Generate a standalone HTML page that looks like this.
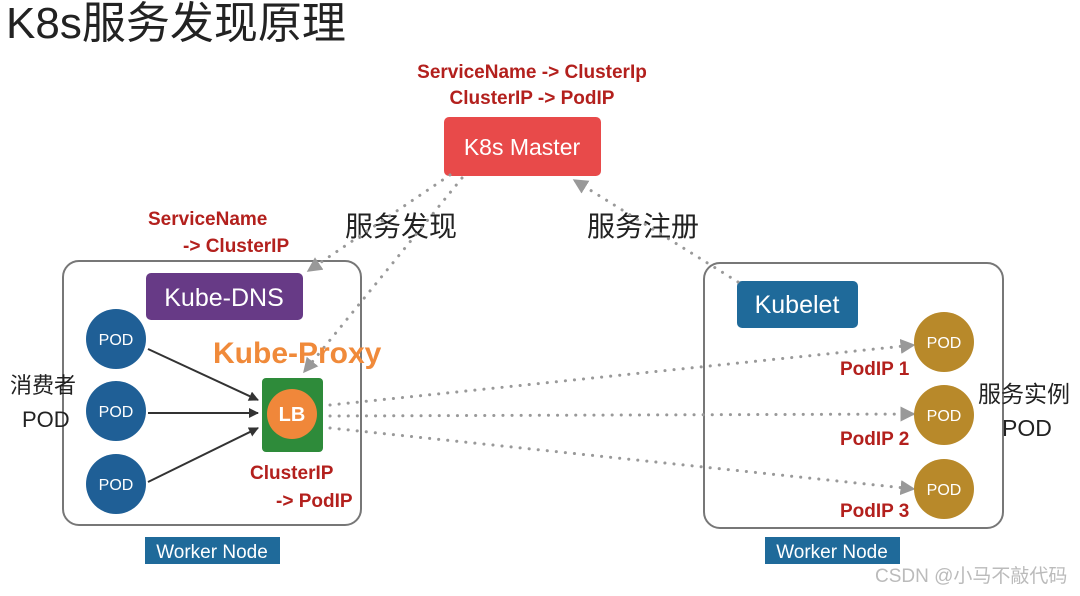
<!DOCTYPE html>
<html><head><meta charset="utf-8"><style>
body{margin:0;background:#fff;width:1080px;height:591px;overflow:hidden}
svg text{font-family:"Liberation Sans","Noto Sans CJK SC",sans-serif}
</style></head><body>
<svg width="1080" height="591" viewBox="0 0 1080 591" xmlns="http://www.w3.org/2000/svg">
<defs>
<marker id="ga" viewBox="0 0 10 10" refX="9" refY="5" markerWidth="5" markerHeight="5" orient="auto"><path d="M0,0L10,5L0,10z" fill="#999"/></marker>
<marker id="ka" viewBox="0 0 10 10" refX="9" refY="5" markerWidth="5" markerHeight="5" orient="auto"><path d="M0,0L10,5L0,10z" fill="#333"/></marker>
</defs>
<text x="6" y="38" font-size="44" fill="#222">K8s服务发现原理</text>
<g font-weight="bold" fill="#b3201d" font-size="19">
<text x="532" y="78" text-anchor="middle">ServiceName -&gt; ClusterIp</text>
<text x="532" y="104" text-anchor="middle">ClusterIP -&gt; PodIP</text>
<text x="148" y="225">ServiceName</text>
<text x="183" y="252">-&gt; ClusterIP</text>
<text x="250" y="479">ClusterIP</text>
<text x="276" y="507">-&gt; PodIP</text>
<text x="840" y="375">PodIP 1</text>
<text x="840" y="445">PodIP 2</text>
<text x="840" y="517">PodIP 3</text>
</g>
<rect x="444" y="117" width="157" height="59" rx="5" fill="#e84a4a"/>
<text x="522" y="155" font-size="23" fill="#fff" text-anchor="middle">K8s Master</text>
<text x="345" y="236" font-size="28" fill="#222">服务发现</text>
<text x="587" y="236" font-size="28" fill="#222">服务注册</text>
<rect x="63" y="261" width="298" height="264" rx="16" fill="none" stroke="#777" stroke-width="2"/>
<rect x="704" y="263" width="299" height="265" rx="16" fill="none" stroke="#777" stroke-width="2"/>
<rect x="146" y="273" width="157" height="47" rx="5" fill="#673a86"/>
<text x="224" y="306" font-size="25" fill="#fff" text-anchor="middle">Kube-DNS</text>
<rect x="737" y="281" width="121" height="47" rx="5" fill="#1f6a9a"/>
<text x="797" y="313" font-size="25" fill="#fff" text-anchor="middle">Kubelet</text>
<g stroke="#999" stroke-width="3" stroke-dasharray="0.1 9" stroke-linecap="round" fill="none">
<line x1="450" y1="175" x2="308" y2="271" marker-end="url(#ga)"/>
<line x1="462" y1="178" x2="304" y2="372" marker-end="url(#ga)"/>
<line x1="738" y1="282" x2="574" y2="180" marker-end="url(#ga)"/>
<line x1="330" y1="405" x2="914" y2="345" marker-end="url(#ga)"/>
<line x1="330" y1="416" x2="914" y2="414" marker-end="url(#ga)"/>
<line x1="330" y1="428" x2="914" y2="489" marker-end="url(#ga)"/>
</g>
<g stroke="#333" stroke-width="2">
<line x1="148" y1="349" x2="258" y2="400" marker-end="url(#ka)"/>
<line x1="148" y1="413" x2="258" y2="413" marker-end="url(#ka)"/>
<line x1="148" y1="482" x2="258" y2="428" marker-end="url(#ka)"/>
</g>
<g fill="#1f5f96"><circle cx="116" cy="339" r="30"/><circle cx="116" cy="411" r="30"/><circle cx="116" cy="484" r="30"/></g>
<g fill="#fff" font-size="16" text-anchor="middle"><text x="116" y="345">POD</text><text x="116" y="417">POD</text><text x="116" y="490">POD</text></g>
<g fill="#b8892a"><circle cx="944" cy="342" r="30"/><circle cx="944" cy="415" r="30"/><circle cx="944" cy="489" r="30"/></g>
<g fill="#fff" font-size="16" text-anchor="middle"><text x="944" y="348">POD</text><text x="944" y="421">POD</text><text x="944" y="495">POD</text></g>
<text x="213" y="363" font-size="30" font-weight="bold" fill="#f08a3a">Kube-Proxy</text>
<rect x="262" y="378" width="61" height="74" rx="4" fill="#2e8b3a"/>
<circle cx="292" cy="414" r="25" fill="#f0873a"/>
<text x="292" y="421" font-size="20" font-weight="bold" fill="#fff" text-anchor="middle">LB</text>
<text x="10" y="393" font-size="22" fill="#222">消费者</text>
<text x="22" y="427" font-size="22" fill="#222">POD</text>
<text x="978" y="402" font-size="23" fill="#222">服务实例</text>
<text x="1002" y="436" font-size="23" fill="#222">POD</text>
<rect x="145" y="537" width="135" height="27" fill="#1f6a9a"/>
<text x="212" y="558" font-size="19" fill="#fff" text-anchor="middle">Worker Node</text>
<rect x="765" y="537" width="135" height="27" fill="#1f6a9a"/>
<text x="832" y="558" font-size="19" fill="#fff" text-anchor="middle">Worker Node</text>
<text x="875" y="582" font-size="19" fill="#bbb">CSDN @小马不敲代码</text>
</svg>
</body></html>
